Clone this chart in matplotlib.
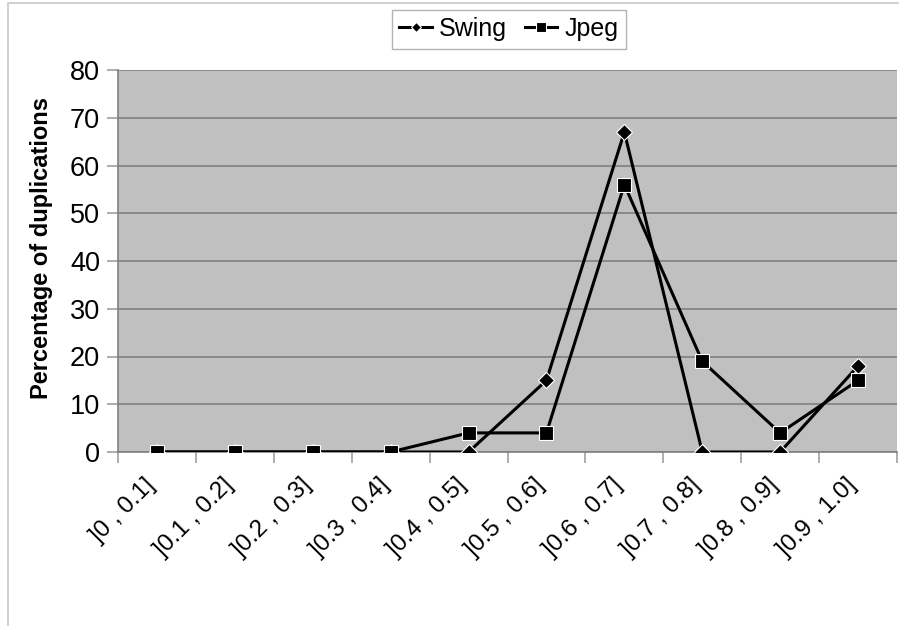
import numpy as np
import matplotlib
matplotlib.use("Agg")
import matplotlib.pyplot as plt
import matplotlib.transforms as mtransforms
from matplotlib.patches import Rectangle

plt.rcParams["font.family"] = ["Liberation Sans", "DejaVu Sans"]

bins = ["]0 , 0.1]", "]0.1 , 0.2]", "]0.2 , 0.3]", "]0.3 , 0.4]", "]0.4 , 0.5]",
        "]0.5 , 0.6]", "]0.6 , 0.7]", "]0.7 , 0.8]", "]0.8 , 0.9]", "]0.9 , 1.0]"]
swing = [0, 0, 0, 0, 0, 15, 67, 0, 0, 18]
jpeg = [0, 0, 0, 0, 4, 4, 56, 19, 4, 15]

W, H = 899, 626
fig = plt.figure(figsize=(W / 100, H / 100), dpi=100)

# light chart-area frame (open on the right and bottom)
fig.patches.append(Rectangle((8 / W, -0.1), 1.2, 1 - 3 / H + 0.1,
                             transform=fig.transFigure, fill=False,
                             edgecolor="#c8c8c8", linewidth=1.2))

ax = fig.add_axes([118 / W, (H - 452) / H, 779 / W, 382 / H])
ax.set_facecolor("#c0c0c0")

x = np.arange(len(bins)) + 0.5
ax.plot(x, swing, color="black", lw=2.2, marker="D", ms=8.5,
        mfc="black", mec="white", mew=0.8, label="Swing", zorder=3)
ax.plot(x, jpeg, color="black", lw=2.2, marker="s", ms=10,
        mfc="black", mec="white", mew=0.8, label="Jpeg", zorder=3)

ax.set_xlim(0, len(bins))
ax.set_ylim(0, 80)
ax.set_yticks(range(0, 81, 10))
ax.yaxis.grid(True, color="#808080", lw=1.2)
ax.set_axisbelow(True)

ax.set_xticks(range(len(bins) + 1))
ax.set_xticklabels([])
ax.set_xticks(x, minor=True)
ax.set_xticklabels(bins, minor=True, rotation=45, ha="right", va="top",
                   rotation_mode="anchor", fontsize=17.5)
ax.tick_params(axis="x", which="minor", length=0, pad=10)
ax.tick_params(axis="x", which="major", length=8, color="#a0a0a0", width=1.2)
ax.tick_params(axis="y", length=8, color="#a0a0a0", width=1.2, labelsize=19.5, pad=5)

# nudge the slanted category labels left/down
shift = mtransforms.ScaledTranslation(-13 / 100, -8 / 100, fig.dpi_scale_trans)
for lbl in ax.get_xticklabels(minor=True):
    lbl.set_transform(lbl.get_transform() + shift)

for side in ("top", "right"):
    ax.spines[side].set_visible(False)
for side in ("left", "bottom"):
    ax.spines[side].set_color("#808080")
    ax.spines[side].set_linewidth(1.2)

ax.set_ylabel("Percentage of duplications", fontsize=17, fontweight="bold")
ax.yaxis.set_label_coords(-0.083, 0.534)

leg = fig.legend(loc="center", bbox_to_anchor=(509 / W, 1 - 29 / H), ncol=2,
                 fontsize=18, frameon=True, fancybox=False, handlelength=1.3,
                 handletextpad=0.3, columnspacing=0.7, borderpad=0.3,
                 markerscale=0.65)
leg.get_frame().set_edgecolor("#a0a0a0")
leg.get_frame().set_linewidth(1.0)

fig.savefig("out.png", dpi=100)
